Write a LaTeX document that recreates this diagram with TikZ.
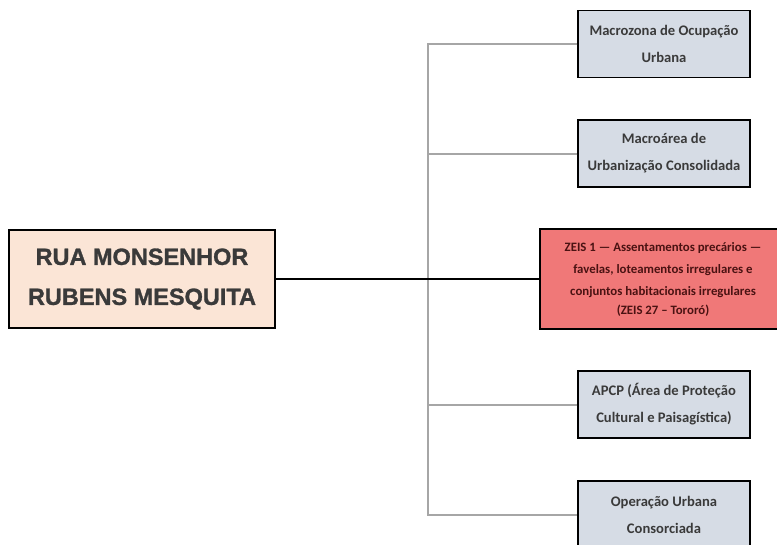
\documentclass[tikz,border=0pt]{standalone}
\usepackage{fontspec}
\setmainfont{Carlito}
\newfontfamily\headfont[FakeBold=1.2]{Liberation Sans}
\definecolor{peach}{HTML}{FBE5D6}
\definecolor{bluegray}{HTML}{D6DCE5}
\definecolor{redfill}{HTML}{F07878}
\definecolor{txtgray}{HTML}{3A3A3A}
\definecolor{txtred}{HTML}{4A1212}
\definecolor{linegray}{HTML}{A6A6A6}
\tikzset{
  mainbox/.style={draw=black, line width=1.4pt, fill=peach, minimum width=266pt, minimum height=98pt, inner sep=0pt, align=center, text=txtgray, font=\headfont\bfseries\fontsize{23.5}{40}\selectfont},
  graybox/.style={draw=black, line width=1.4pt, fill=bluegray, minimum width=172pt, minimum height=67pt, inner sep=0pt, align=center, text=txtgray, font=\bfseries\fontsize{14.6}{27}\selectfont},
  redbox/.style={draw=black, line width=1.4pt, fill=redfill, minimum width=246pt, minimum height=100pt, inner sep=0pt, align=center, text=txtred, font=\bfseries\fontsize{12.8}{22}\selectfont},
  grayline/.style={draw=linegray, line width=2pt},
  blackline/.style={draw=black, line width=2pt}
}
\begin{document}
\begin{tikzpicture}[x=1pt, y=-1pt]
\useasboundingbox (0,0) rectangle (777,544);
\clip (0,0) rectangle (777,544);
\node[mainbox] (main) at (142,279) {RUA MONSENHOR\\RUBENS MESQUITA};
\node[graybox] (b1) at (664,44) {Macrozona de Ocupação\\Urbana};
\node[graybox] (b2) at (664,153.5) {Macroárea de\\Urbanização Consolidada};
\node[redbox] (b3) at (663,279) {ZEIS 1 — Assentamentos precários —\\favelas, loteamentos irregulares e\\conjuntos habitacionais irregulares\\[-3pt](ZEIS 27 – Tororó)};
\node[graybox] (b4) at (664,404.5) {APCP (Área de Proteção\\Cultural e Paisagística)};
\node[graybox] (b5) at (664,514.5) {Operação Urbana\\Consorciada};
\coordinate (ttop) at (428,44);
\coordinate (tbot) at (428,514.5);
\draw[grayline] (b1.west) -- (ttop) -- (tbot) -- (b5.west);
\draw[grayline] (b2.west) -- (b2.west -| ttop);
\draw[grayline] (b4.west) -- (b4.west -| ttop);
\draw[blackline] (main.east) -- (b3.west);
\end{tikzpicture}
\end{document}
